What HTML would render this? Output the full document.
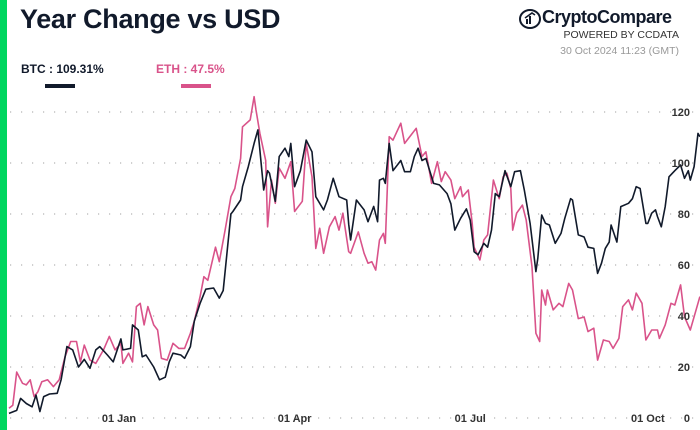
<!DOCTYPE html>
<html><head><meta charset="utf-8"><style>
body{margin:0;width:700px;height:430px;background:#fff;overflow:hidden;font-family:"Liberation Sans",sans-serif;position:relative}
.abs{position:absolute}
</style></head><body>
<div class="abs" style="left:0;top:0;width:7px;height:430px;background:#00d65f"></div>
<div class="abs" style="left:20px;top:4px;font-size:27px;font-weight:bold;color:#111a2b;letter-spacing:-0.3px">Year Change vs USD</div>
<div class="abs" style="left:518px;top:6px;width:165px;height:26px">
 <svg class="abs" style="left:0;top:2px" width="24" height="22"><ellipse cx="12" cy="11" rx="10" ry="9" fill="none" stroke="#111a2b" stroke-width="2"/><rect x="8" y="11" width="2" height="5" fill="#111a2b"/><rect x="11" y="8" width="2" height="8" fill="#111a2b"/><path d="M7 10 L14 5 L17 7" stroke="#111a2b" stroke-width="1.6" fill="none"/></svg>
 <div class="abs" style="left:24px;top:1px;font-size:18px;font-weight:bold;color:#111a2b;letter-spacing:-0.5px">CryptoCompare</div>
</div>
<div class="abs" style="right:21px;top:29px;font-size:10.5px;color:#333">POWERED BY CCDATA</div>
<div class="abs" style="right:21px;top:45px;font-size:10.5px;color:#999">30 Oct 2024 11:23 (GMT)</div>
<div class="abs" style="left:21px;top:62px;font-size:12px;font-weight:bold;color:#111a2b">BTC : 109.31%</div>
<div class="abs" style="left:45px;top:84px;width:30px;height:4px;background:#111a2b"></div>
<div class="abs" style="left:156px;top:62px;font-size:12px;font-weight:bold;color:#d9538a">ETH : 47.5%</div>
<div class="abs" style="left:181px;top:84px;width:30px;height:4px;background:#d9538a"></div>
<svg class="abs" id="chart" style="left:0;top:0" width="700" height="430"></svg>
<script>
const yTicks=[0,20,40,60,80,100,120];
const xTickLabels=["01 Jan","01 Apr","01 Jul","01 Oct"];
const xTickDays=[63,154,245,337];
const btcDays=[6,10,12,15,18,20,22,24,27,31,33,36,39,42,45,48,51,53,57,60,64,65,69,70,73,75,77,81,84,87,89,91,95,97,100,102,105,108,112,115,117,121,122,126,127,130,133,135,136,138,140,141,144,146,149,151,152,154,157,160,163,165,169,171,174,177,181,182,183,186,190,192,195,197,198,200,201,203,205,209,211,214,216,218,220,222,226,229,233,235,237,240,243,245,247,249,252,254,256,258,260,263,266,268,271,273,276,279,280,282,284,286,289,292,294,297,298,301,304,306,309,311,313,315,317,318,321,323,327,329,331,333,336,337,339,341,342,344,346,348,351,354,356,358,359,361,363,364];
const btcVals=[1.8,3,7.7,5.7,4.4,9,2.5,8.4,9.4,9.7,15,28,26.7,20,23,19.5,26.7,28,24.7,22,31,26.7,27.3,36.5,34.5,24,24.7,20,15,16,22,25.4,24.7,23.4,28,38,45,50.5,51,47,50,80,81,85.5,90.7,98.6,107.7,113,105,89.4,97,96,85,102.5,105.8,102.5,107.7,90.7,97,109,104.4,86.8,81.6,85.5,94,86.8,85.5,76,69.8,85.5,81.6,77,83,77,93.3,94,92,107.7,97,101,96.6,96.6,102.5,105.8,101,101.8,92,91.4,88,84,73.7,78.3,82,77.6,65.2,64,68.5,67,73.7,88,86.8,97,90.7,96.6,97,89.4,76.3,57.4,62.6,79.6,76.3,75.7,68.5,72.4,78.3,86,85.5,71.8,71,67,66.5,56.7,60.7,66.5,69,75.7,69,82.9,84.2,86,90.7,90,76.3,76.3,80.3,81.6,79,75,82.9,94.6,97,99.2,94,97,93.3,98.6,111.6,110.3];
const ethDays=[6,8,10,13,15,17,19,21,23,26,29,32,35,38,41,43,45,48,51,55,58,61,64,65,68,70,72,74,76,78,81,83,85,88,91,94,97,100,102,105,107,109,113,115,118,121,123,126,127,131,133,134,136,139,140,142,144,146,149,152,154,158,160,163,165,167,169,172,175,177,179,182,183,187,190,192,194,196,198,200,201,203,205,209,211,215,217,220,222,225,228,230,232,235,237,240,241,244,246,247,250,252,254,257,260,262,264,266,267,269,272,274,277,279,281,282,284,285,288,291,293,296,298,301,304,306,309,311,314,317,319,322,324,327,329,331,334,336,339,342,343,346,349,351,354,356,359,361,364];
const ethVals=[3.8,5,18,13.6,13,15,8.4,10.3,14.2,15,12.3,15,24,30,30,22,28.6,22.7,21.4,26.7,32,26.7,29.3,21.4,25.4,22,43.7,45,36.5,43.7,36.5,34.5,23.4,22.7,29.3,27.3,27.3,33.2,38,47.6,55.4,54,67,61.3,73.7,86.8,90,101.8,114.2,116.9,126,120.8,111.6,101,75,93.3,84.2,98,94,100.5,81,85,107.7,94.6,66.5,74.4,64.6,75,79,73.7,80.3,65.2,64.6,73,64.6,60.7,61.3,58,69.8,72.4,68.5,110.3,109,115.6,107.7,111.6,113.6,102.5,104.4,92,100.5,92.7,96.6,93.3,86,90.7,86.8,89.4,76.3,67,62,69.8,71.8,93.3,86,94.6,96,90,73.7,80.3,83.5,77.6,59.3,33.2,30,50.2,44.3,50.2,42.4,45,43.7,52.8,50.2,39,39.6,33.9,35.2,22.7,30.6,30,27.3,31.2,43.7,46.3,42.4,49,45,30.6,34.5,34.5,31.2,36.5,45,44.3,52.2,39.7,34.5,39.7,47.6];
const NS="http://www.w3.org/2000/svg";
const svg=document.getElementById('chart');
const xScale=d=>-2.6+d*1.93;
const yScale=v=>418-v*2.55;
function mk(t,a){const e=document.createElementNS(NS,t);for(const k in a)e.setAttribute(k,a[k]);svg.appendChild(e);return e;}
yTicks.forEach(t=>{
 const g=mk('line',{x1:10,x2:700,y1:yScale(t),y2:yScale(t),stroke:'#b5b5b5','stroke-width':1.2,'stroke-dasharray':'1.2 9.8'});
 
 
});
function series(days,vals,color,name){
 const d=days.map((dd,i)=>(i?'L':'M')+xScale(dd).toFixed(1)+' '+yScale(vals[i]).toFixed(1)).join(' ');
 const p=mk('path',{d:d,fill:'none',stroke:color,'stroke-width':1.6,'stroke-linejoin':'round'});
 
 
}
series(ethDays,ethVals,'#d9538a','eth-line');
series(btcDays,btcVals,'#111a2b','btc-line');
yTicks.forEach(t=>{
 const e=mk('text',{x:690,y:yScale(t)+4,'text-anchor':'end','font-size':11,'font-weight':'bold',fill:'#333','font-family':'Liberation Sans, sans-serif'});
 e.textContent=t;
 
 
});
xTickLabels.forEach((l,i)=>{
 const e=mk('text',{x:xScale(xTickDays[i]),y:422,'text-anchor':'middle','font-size':11,'font-weight':'bold',fill:'#333','font-family':'Liberation Sans, sans-serif'});
 e.textContent=l;
 
 
});
</script>
</body></html>
